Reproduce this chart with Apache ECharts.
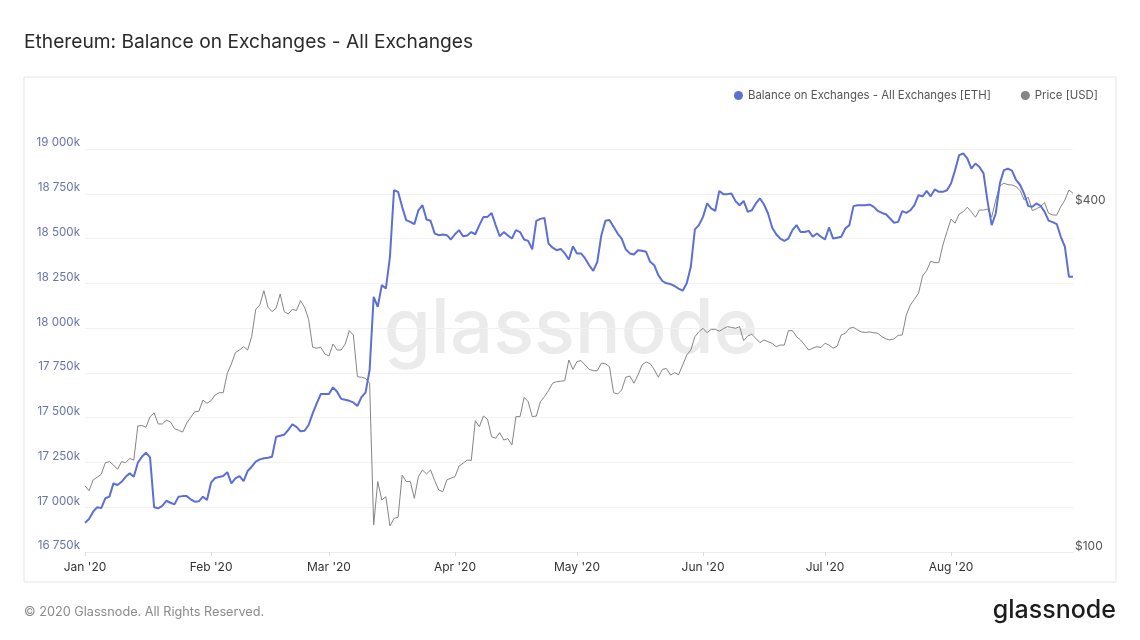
<!DOCTYPE html>
<html>
<head>
<meta charset="utf-8">
<script src="https://cdn.jsdelivr.net/npm/echarts@6/dist/echarts.min.js"></script>
<style>
html,body{margin:0;padding:0;background:#fff;}
#chart{width:1140px;height:640px;}
</style>
</head>
<body>
<div id="chart"></div>
<script>
// Daily data, 1 Jan 2020 .. 31 Aug 2020
const startDate = '2020-01-01';
const monthNames = ['Jan','Feb','Mar','Apr','May','Jun','Jul','Aug','Sep','Oct','Nov','Dec'];

// Balance on Exchanges - All Exchanges, thousands of ETH
const balanceK = [
16914,16934,16975,17000,16995,17050,17059,17133,17124,17142,
17170,17189,17170,17248,17282,17304,17278,17000,16994,17007,
17036,17025,17016,17059,17062,17062,17044,17031,17033,17059,
17040,17137,17163,17169,17174,17196,17133,17161,17174,17146,
17202,17226,17254,17267,17273,17276,17282,17393,17399,17405,
17431,17463,17449,17424,17427,17459,17524,17580,17632,17632,
17632,17669,17645,17605,17600,17594,17585,17565,17615,17640,
17766,18175,18119,18240,18221,18398,18770,18761,18677,18603,
18593,18580,18658,18686,18606,18599,18528,18519,18523,18519,
18495,18524,18547,18513,18517,18536,18524,18575,18621,18621,
18643,18575,18513,18536,18517,18500,18547,18536,18495,18487,
18440,18599,18610,18615,18472,18449,18435,18442,18417,18383,
18457,18417,18417,18389,18351,18320,18370,18519,18599,18603,
18566,18528,18500,18440,18417,18411,18435,18432,18426,18370,
18351,18296,18263,18250,18246,18235,18220,18209,18250,18342,
18551,18575,18621,18696,18668,18654,18766,18748,18748,18752,
18709,18686,18710,18649,18658,18696,18724,18690,18640,18562,
18524,18500,18487,18500,18547,18575,18537,18537,18543,18510,
18528,18510,18495,18562,18500,18505,18510,18556,18575,18681,
18686,18686,18686,18690,18677,18654,18643,18636,18612,18588,
18593,18653,18643,18658,18686,18742,18736,18766,18736,18774,
18761,18761,18770,18807,18882,18966,18975,18947,18891,18919,
18900,18864,18705,18575,18640,18807,18882,18890,18879,18827,
18799,18749,18681,18677,18696,18683,18650,18600,18592,18581,
18510,18455,18287,18287
];

// Price [USD]
const priceUSD = [
130.3,127.8,133.5,134.9,136.5,143,143.6,141.7,139.3,143.6,
143,145.5,144.5,165.7,166,164.8,171.9,174.7,167,167,
169.5,168.5,163.9,162.8,161.7,167.5,171.5,175.4,175.7,183.8,
181.4,183.3,187.6,189.3,189.3,204.6,212.4,222.3,224.6,227.7,
224.6,237,264.4,269,284.9,266.6,261.9,265.5,281.1,261.9,
259.5,264.4,263,273.7,266.6,254,227.1,226.2,227.1,221,
219.3,230.1,224.6,224.6,230,242.7,238.5,201.8,201.4,200.5,
196.6,111.4,132.6,123.2,124.8,111,114.4,114.9,136.1,132.6,
132.6,124,135.2,138.9,136.7,138.9,133.1,128.2,127.3,133.5,
134.4,135.2,141.1,142.7,144.5,144.3,169.2,165.2,172.4,170.2,
158.7,157.7,161.3,156.6,157.5,153.5,172,172,185.8,182.6,
172,172.4,182.6,186.3,190.9,196.6,197.9,198.2,198.6,215.8,
207.8,214.4,215.3,211.5,207.8,206.7,206.7,213,212.6,210.1,
189.3,188.3,191.4,201.4,202.4,196.6,203.2,211.5,214.1,212.6,
207.8,201.4,207.8,208.6,203.2,205.1,203.5,211.5,220.1,224.6,
236.9,241.7,245,240.7,244,244,242.1,244.6,246.6,245.9,
245,246.6,233.2,237.6,239.2,235.4,231.3,233.8,232.2,230.7,
227.6,229.1,229.1,242.7,242.7,236.9,233.8,229.1,224.6,226.2,
227.6,226.8,230.7,229.1,226.2,228.2,238.5,240.1,245,246,
243.4,241.4,241,241.4,240.7,240.1,236.9,234.8,233.8,234.8,
238.2,238.5,258.4,269,275.2,281.8,302.1,308.6,320.4,318.7,
318.7,342,360.9,379.3,373.2,387.3,390.9,397.9,390.6,382.3,
393.5,393.5,395.1,382.3,409.6,433.4,438.1,435.5,435,432.1,
425.3,409.6,414.1,392.4,395.6,398.8,405.3,388.4,385.8,385.5,
398.8,409.6,426.4,420.7
];

// Axis settings
const balanceMin = 16750, balanceMax = 19000, balanceStep = 250;
const priceTickLabels = [100, 400];   // log-scale price ticks shown
const priceLogMin = 2;                 // log10(100)
const priceLogMax = 2.7011;            // top of plot on the log price scale

// Build date categories
const dates = [];
{
  const d0 = new Date(startDate + 'T00:00:00Z');
  for (let i = 0; i < balanceK.length; i++) {
    const d = new Date(d0.getTime() + i * 86400000);
    dates.push(d.toISOString().slice(0, 10));
  }
}
const priceLog = priceUSD.map(v => Math.log10(v));

const isMonthStart = (idx, val) => val.slice(8) === '01';
const fmtK = v => String(Math.round(v)).replace(/\B(?=(\d{3})+(?!\d))/g, ' ') + 'k';
const FONT = 'Inter, "Noto Sans", sans-serif';

const chart = echarts.init(document.getElementById('chart'), null, {renderer: 'canvas'});
chart.setOption({
  animation: false,
  backgroundColor: '#ffffff',
  textStyle: {fontFamily: FONT},
  title: {
    text: 'Ethereum: Balance on Exchanges - All Exchanges',
    left: 19, top: 28,
    textStyle: {fontSize: 19.2, fontWeight: 'normal', color: '#2b2b2b', fontFamily: FONT}
  },
  legend: {
    top: 85, right: 37,
    icon: 'circle', itemWidth: 9, itemHeight: 9, itemGap: 30,
    textStyle: {color: '#555', fontSize: 11.4, fontFamily: FONT},
    data: ['Balance on Exchanges - All Exchanges [ETH]', 'Price [USD]']
  },
  graphic: [
    {type: 'rect', z: -10, shape: {x: 24, y: 77, width: 1092, height: 505},
     style: {fill: 'none', stroke: '#e6e6e6', lineWidth: 1}},
    {type: 'text', z: 0, style: {x: 571, y: 330, text: 'glassnode', textAlign: 'center',
      textVerticalAlign: 'middle', fontSize: 76, fontWeight: 500, fill: '#ebebeb', fontFamily: FONT}},
    {type: 'text', style: {x: 24, y: 612, text: '\u00a9 2020 Glassnode. All Rights Reserved.',
      textVerticalAlign: 'middle', fontSize: 12.7, fill: '#8a8a8a', fontFamily: FONT}},
    {type: 'text', style: {x: 1116, y: 610, text: 'glassnode', textAlign: 'right',
      textVerticalAlign: 'middle', fontSize: 25, fontWeight: 500, fill: '#1c1c1c', fontFamily: FONT}}
  ],
  grid: {left: 85, right: 67, top: 149, bottom: 88},
  xAxis: {
    type: 'category', data: dates, boundaryGap: false,
    axisLine: {lineStyle: {color: '#ececec'}},
    axisTick: {show: true, interval: isMonthStart, length: 4, lineStyle: {color: '#dcdcdc'}},
    axisLabel: {
      interval: isMonthStart, color: '#333', fontSize: 12, margin: 9,
      formatter: v => monthNames[+v.slice(5, 7) - 1] + " '" + v.slice(2, 4)
    },
    splitLine: {show: false}
  },
  yAxis: [
    {
      type: 'value', position: 'left', min: balanceMin, max: balanceMax, interval: balanceStep,
      axisLine: {show: false}, axisTick: {show: false},
      axisLabel: {formatter: fmtK, color: '#6a74ab', fontSize: 11.6, margin: 5, verticalAlign: 'bottom'},
      splitLine: {lineStyle: {color: '#f1f1f1'}}
    },
    {
      type: 'value', position: 'right', min: priceLogMin, max: priceLogMax,
      interval: Math.log10(priceTickLabels[1] / priceTickLabels[0]),
      axisLine: {show: false}, axisTick: {show: false}, splitLine: {show: false},
      axisLabel: {
        color: '#555', fontSize: 12, margin: 2, verticalAlign: 'bottom',
        formatter: v => {
          const p = Math.round(Math.pow(10, v));
          return priceTickLabels.some(t => Math.abs(t - p) < 1) ? '$' + p : '';
        }
      }
    }
  ],
  series: [
    {
      name: 'Price [USD]', type: 'line', yAxisIndex: 1, data: priceLog,
      showSymbol: false, symbol: 'none', z: 2,
      lineStyle: {color: '#858585', width: 1}, itemStyle: {color: '#858585'}
    },
    {
      name: 'Balance on Exchanges - All Exchanges [ETH]', type: 'line', yAxisIndex: 0, data: balanceK,
      showSymbol: false, symbol: 'none', z: 3,
      lineStyle: {color: '#5c6fd4', width: 2}, itemStyle: {color: '#5c6fd4'}
    }
  ]
});
</script>
</body>
</html>
